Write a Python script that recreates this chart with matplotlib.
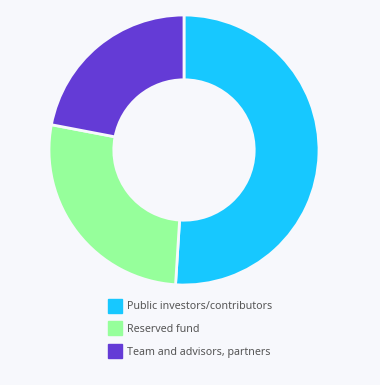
import matplotlib
matplotlib.use("Agg")
import matplotlib.pyplot as plt
from matplotlib.lines import Line2D

labels = ["Public investors/contributors", "Reserved fund", "Team and advisors, partners"]
values = [51, 27, 22]
colors = ["#17c8ff", "#96ff9b", "#643bd6"]
bg = "#f7f8fc"

fig = plt.figure(figsize=(3.8, 3.85), dpi=100, facecolor=bg)
ax = fig.add_axes([49/380, 100/385, 270/380, 270/385])
ax.set_facecolor(bg)
ax.pie(values, colors=colors, startangle=90, counterclock=False, radius=1.0,
       wedgeprops=dict(width=0.48, edgecolor=bg, linewidth=2))
ax.set_xlim(-1, 1)
ax.set_ylim(-1, 1)
ax.set_aspect("equal")
ax.axis("off")

handles = [Line2D([], [], marker="s", linestyle="none", markersize=9.5,
                  markerfacecolor=c, markeredgecolor=c) for c in colors]
fig.legend(handles, labels, loc="upper left", bbox_to_anchor=(103/380, 1 - 296/385),
           frameon=False, prop={"family": "Noto Sans", "size": 7.7}, labelcolor="#555555",
           handletextpad=0.5, labelspacing=1.1, handlelength=1.25, borderpad=0)
fig.savefig("out.png", dpi=100, facecolor=bg)
